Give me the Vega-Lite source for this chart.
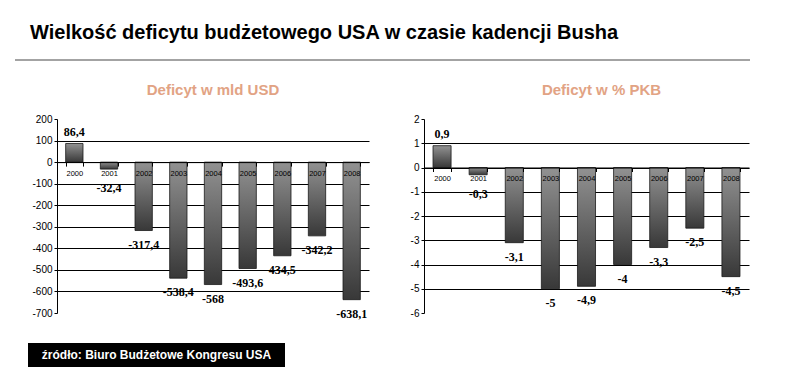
{
  "$schema": "https://vega.github.io/schema/vega-lite/v6.json",
  "padding": {"left": 15, "top": 23, "right": 0, "bottom": 0},
  "background": "white",
  "config": {
    "view": {"stroke": null},
    "locale": {"number": {"decimal": ",", "thousands": " ", "grouping": [3], "currency": ["", ""], "minus": "-"}}
  },
  "datasets": {
    "usd": [
      {"year": "2000", "value": 86.4, "label": "86,4"},
      {"year": "2001", "value": -32.4, "label": "-32,4"},
      {"year": "2002", "value": -317.4, "label": "-317,4"},
      {"year": "2003", "value": -538.4, "label": "-538,4"},
      {"year": "2004", "value": -568, "label": "-568"},
      {"year": "2005", "value": -493.6, "label": "-493,6"},
      {"year": "2006", "value": -434.5, "label": "434,5"},
      {"year": "2007", "value": -342.2, "label": "-342,2"},
      {"year": "2008", "value": -638.1, "label": "-638,1"}
    ],
    "pkb": [
      {"year": "2000", "value": 0.9, "label": "0,9"},
      {"year": "2001", "value": -0.3, "label": "-0,3"},
      {"year": "2002", "value": -3.1, "label": "-3,1"},
      {"year": "2003", "value": -5, "label": "-5"},
      {"year": "2004", "value": -4.9, "label": "-4,9"},
      {"year": "2005", "value": -4, "label": "-4"},
      {"year": "2006", "value": -3.3, "label": "-3,3"},
      {"year": "2007", "value": -2.5, "label": "-2,5"},
      {"year": "2008", "value": -4.5, "label": "-4,5"}
    ]
  },
  "spacing": 23,
  "columns": 1,
  "concat": [
    {
      "spacing": 22,
      "columns": 1,
      "concat": [
        {
          "width": 735,
          "height": 2,
          "title": {"text": "Wielkość deficytu budżetowego USA w czasie kadencji Busha", "anchor": "start", "dx": 15, "fontSize": 20, "fontWeight": "bold", "font": "Liberation Sans", "color": "#000000", "baseline": "alphabetic", "offset": 0, "frame": "group"},
          "data": {"values": [{"part": "divider"}]},
          "mark": {"type": "rect", "color": "#a3a3a3"},
          "encoding": {
            "y": {"field": "part", "type": "nominal", "scale": {"paddingInner": 0, "paddingOuter": 0}, "axis": null}
          }
        },
        {
          "spacing": 0,
          "hconcat": [
            {"width": 1, "height": 1, "data": {"values": []}, "mark": {"type": "point", "opacity": 0}},
            {
              "spacing": 25,
              "hconcat": [
                {
                  "width": 312,
                  "height": 194,
                  "title": {"text": "Deficyt w mld USD", "fontSize": 15, "fontWeight": "bold", "font": "Liberation Sans", "color": "#E2A384", "frame": "group", "baseline": "alphabetic", "offset": 4},
                  "data": {"name": "usd"},
                  "encoding": {
                    "x": {"field": "year", "type": "nominal", "scale": {"paddingInner": 0.5, "paddingOuter": 0.25},
                      "axis": {"orient": "bottom", "offset": -150.9, "title": null, "labelAngle": 0, "labelFont": "Liberation Sans", "labelFontSize": 7.5, "labelColor": "#000000", "domainColor": "#000000", "domainWidth": 1, "tickColor": "#000000", "tickSize": 4, "tickBand": "extent", "labelPadding": 3, "zindex": 1, "grid": false}},
                    "y": {"field": "value", "type": "quantitative", "scale": {"domain": [-700, 200], "nice": false},
                      "axis": {"values": [200, 100, 0, -100, -200, -300, -400, -500, -600, -700], "title": null, "labelFont": "Liberation Sans", "labelFontSize": 10, "labelColor": "#000000", "domainColor": "#000000", "tickColor": "#000000", "tickSize": 3, "labelPadding": 2, "minExtent": 41, "grid": true, "gridColor": "#000000", "gridWidth": 1, "gridOpacity": {"condition": {"test": "datum.value == 200 || datum.value == -700", "value": 0}, "value": 1}}}
                  },
                  "layer": [
                    {"mark": {"type": "bar", "stroke": "#1a1a1a", "strokeWidth": 0.8, "color": {"gradient": "linear", "x1": 0, "y1": 0, "x2": 0, "y2": 1, "stops": [{"offset": 0, "color": "#929292"}, {"offset": 1, "color": "#383838"}]}}},
                    {"transform": [{"filter": "datum.value > 0"}], "mark": {"type": "text", "dy": -11, "font": "Liberation Serif", "fontSize": 12, "fontWeight": "bold", "color": "#000000"}, "encoding": {"text": {"field": "label"}}},
                    {"transform": [{"filter": "datum.value < 0 && datum.value > -60"}], "mark": {"type": "text", "dy": 19, "font": "Liberation Serif", "fontSize": 12, "fontWeight": "bold", "color": "#000000"}, "encoding": {"text": {"field": "label"}}},
                    {"transform": [{"filter": "datum.value <= -60"}], "mark": {"type": "text", "dy": 14, "font": "Liberation Serif", "fontSize": 12, "fontWeight": "bold", "color": "#000000"}, "encoding": {"text": {"field": "label"}}}
                  ]
                },
                {
                  "width": 325,
                  "height": 194,
                  "title": {"text": "Deficyt w % PKB", "fontSize": 15, "fontWeight": "bold", "font": "Liberation Sans", "color": "#E2A384", "frame": "group", "baseline": "alphabetic", "offset": 4, "dx": 15},
                  "data": {"name": "pkb"},
                  "encoding": {
                    "x": {"field": "year", "type": "nominal", "scale": {"paddingInner": 0.5, "paddingOuter": 0.25},
                      "axis": {"orient": "bottom", "offset": -145.5, "title": null, "labelAngle": 0, "labelFont": "Liberation Sans", "labelFontSize": 7.5, "labelColor": "#000000", "domainColor": "#000000", "domainWidth": 1, "tickColor": "#000000", "tickSize": 4, "tickBand": "extent", "labelPadding": 3, "zindex": 1, "grid": false}},
                    "y": {"field": "value", "type": "quantitative", "scale": {"domain": [-6, 2], "nice": false},
                      "axis": {"values": [2, 1, 0, -1, -2, -3, -4, -5, -6], "title": null, "labelFont": "Liberation Sans", "labelFontSize": 10, "labelColor": "#000000", "domainColor": "#000000", "tickColor": "#000000", "tickSize": 3, "labelPadding": 2, "minExtent": 30, "grid": true, "gridColor": "#000000", "gridWidth": 1, "gridOpacity": {"condition": {"test": "datum.value == 2 || datum.value == -6", "value": 0}, "value": 1}}}
                  },
                  "layer": [
                    {"mark": {"type": "bar", "stroke": "#1a1a1a", "strokeWidth": 0.8, "color": {"gradient": "linear", "x1": 0, "y1": 0, "x2": 0, "y2": 1, "stops": [{"offset": 0, "color": "#929292"}, {"offset": 1, "color": "#383838"}]}}},
                    {"transform": [{"filter": "datum.value > 0"}], "mark": {"type": "text", "dy": -12, "font": "Liberation Serif", "fontSize": 12, "fontWeight": "bold", "color": "#000000"}, "encoding": {"text": {"field": "label"}}},
                    {"transform": [{"filter": "datum.value < 0 && datum.value > -0.6"}], "mark": {"type": "text", "dy": 19, "font": "Liberation Serif", "fontSize": 12, "fontWeight": "bold", "color": "#000000"}, "encoding": {"text": {"field": "label"}}},
                    {"transform": [{"filter": "datum.value <= -0.6"}], "mark": {"type": "text", "dy": 14, "font": "Liberation Serif", "fontSize": 12, "fontWeight": "bold", "color": "#000000"}, "encoding": {"text": {"field": "label"}}}
                  ]
                }
              ]
            }
          ]
        }
      ]
    },
    {
      "spacing": 0,
      "hconcat": [
        {"width": 13, "height": 1, "data": {"values": []}, "mark": {"type": "point", "opacity": 0}},
        {
          "width": 257,
          "height": 24,
          "data": {"values": [{"source": "źródło: Biuro Budżetowe Kongresu USA"}]},
          "layer": [
            {"mark": {"type": "rect", "color": "#000000"},
              "encoding": {"y": {"field": "source", "type": "nominal", "scale": {"paddingInner": 0, "paddingOuter": 0}, "axis": null}}},
            {"mark": {"type": "text", "color": "#ffffff", "font": "Liberation Sans", "fontSize": 12, "fontWeight": "bold"},
              "encoding": {"text": {"field": "source"}}}
          ]
        }
      ]
    }
  ]
}
